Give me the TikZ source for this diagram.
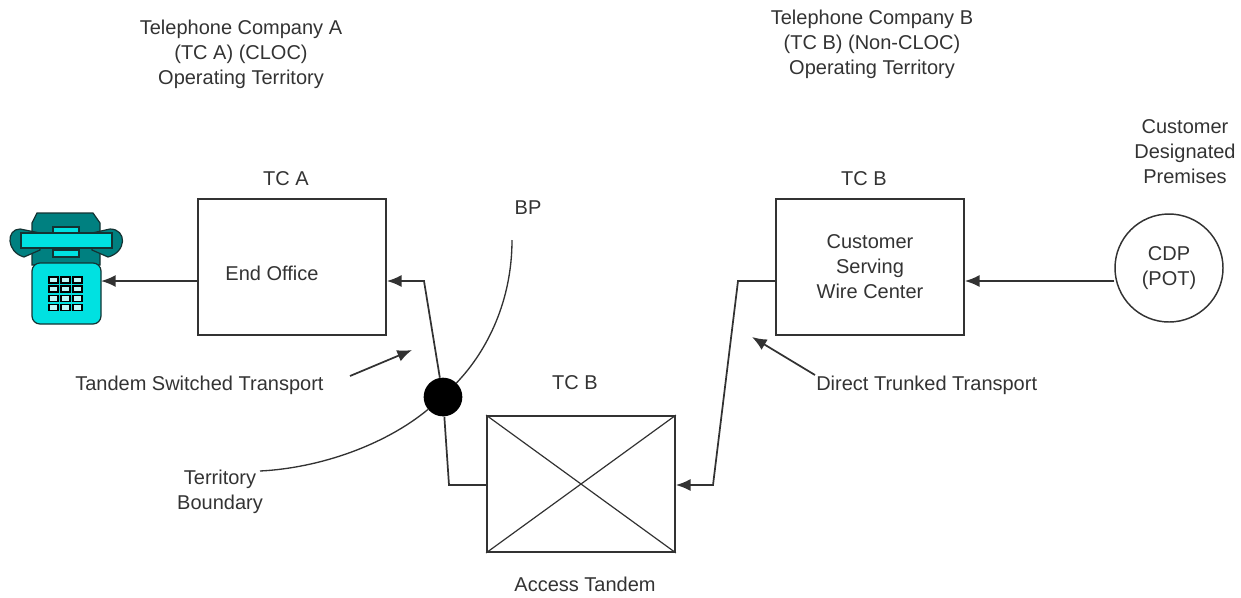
\documentclass[tikz,border=0pt]{standalone}
\usepackage{fontspec}
\setmainfont{Liberation Sans}
\usetikzlibrary{arrows.meta}
\definecolor{phonecyan}{RGB}{0,225,225}
\definecolor{phonedark}{RGB}{0,128,128}
\definecolor{phoneline}{RGB}{20,50,50}
\definecolor{linegray}{RGB}{50,50,50}
\begin{document}
\begin{tikzpicture}[x=0.75pt, y=-0.75pt, every node/.style={font=\fontsize{15}{18.75}\selectfont, text=black!80, align=center, inner sep=0pt}]

\tikzset{box/.style={draw=linegray, line width=1.3pt, minimum width=141pt, minimum height=102pt}}
\tikzset{link/.style={draw=linegray, line width=1.3pt}}
\tikzset{linkarrow/.style={link, -{Latex[length=11pt,width=9pt]}}}
\tikzset{bound/.style={draw=linegray, line width=1pt}}
\tikzset{phonepart/.style={draw=phoneline, line width=0.9pt, fill=phonecyan}}
\tikzset{phonedarkpart/.style={draw=phoneline, line width=0.9pt, fill=phonedark}}

\useasboundingbox (0,0) rectangle (1241,597);

% phone
\filldraw[phonedarkpart] (37,213) -- (93,213) -- (100,223) -- (100,265) -- (32,265) -- (32,223) -- cycle;
\filldraw[phonedarkpart] (17,229) circle [radius=0] (20,229) .. controls (6,229) and (6,252) .. (24,257) -- (40,250) -- (40,233) -- cycle;
\filldraw[phonedarkpart] (110,229) .. controls (127,229) and (127,252) .. (108,257) -- (92,250) -- (92,233) -- cycle;
\filldraw[phonepart] (53,227) rectangle (79,233);
\filldraw[phonepart] (53,250) rectangle (79,257);
\filldraw[phonepart] (21,233) rectangle (112,248);
\filldraw[phonepart, rounded corners=6pt] (32,263) rectangle (101,324);
\foreach \col in {0,1,2} {
  \foreach \row in {0,1,2,3} {
    \filldraw[fill=white!75!phonecyan, draw=black, line width=1.2pt] ({49+\col*12},{277+\row*9.2}) rectangle ({58+\col*12},{283+\row*9.2});
  }
}
\coordinate (phone) at (101,281);

% boxes
\node[box] (endoffice) at (292,267) {};
\node at (272,273) {End Office};
\node[box] (servingwc) at (870,267) {Customer\\Serving\\Wire Center};
\node[box] (tandem) at (581,484) {};
\draw[link, line width=0.9pt] (tandem.north west) -- (tandem.south east);
\draw[link, line width=0.9pt] (tandem.north east) -- (tandem.south west);
\node[circle, draw=linegray, line width=1.1pt, minimum size=81pt] (cdp) at (1169,268) {CDP\\(POT)};
\node[circle, fill=black, minimum size=29pt] (bp) at (443,397) {};

% connectors
\draw[linkarrow] (endoffice.west |- phone) -- (phone);
\coordinate (upbend) at (424,281);
\coordinate (downbend) at (449,485);
\coordinate (eastbend) at (738,281);
\coordinate (southbend) at (713,485);
\draw[linkarrow] (bp) -- (upbend) -- (endoffice.east |- upbend);
\draw[link] (bp) -- (downbend) -- (tandem.west |- downbend);
\draw[linkarrow] (servingwc.west |- eastbend) -- (eastbend) -- (southbend) -- (tandem.east |- southbend);
\draw[linkarrow] (cdp.west |- eastbend) -- (servingwc.east |- eastbend);

% boundary
\coordinate (bptop) at (512,240);
\coordinate (boundleft) at (260,471);
\draw[bound] (bptop) .. controls (512,300) and (488,350) .. (bp);
\draw[bound] (boundleft) .. controls (320,468) and (385,445) .. (bp);

% labels
\node (tca) at (241,54) {Telephone Company A\\(TC A) (CLOC)\\Operating Territory};
\node (tcb) at (872,44) {Telephone Company B\\(TC B) (Non-CLOC)\\Operating Territory};
\node (cdplabel) at (1185,152) {Customer\\Designated\\Premises};
\node (endofficetop) at (286,179) {TC A};
\node (servingtop) at (864,179) {TC B};
\node (tandemtop) at (575,383) {TC B};
\node (bplabel) at (528,208) {BP};
\node (tandemlabel) at (585,584) {Access Tandem};
\node (bound) at (220,492) {Territory\\Boundary};
\node[anchor=west] (tst) at (75,385) {Tandem Switched Transport};
\node[anchor=west] (dtt) at (816,385) {Direct Trunked Transport};

\coordinate (tststart) at (350,376);
\coordinate (tstend) at (412,350);
\coordinate (dttstart) at (815,375);
\coordinate (dttend) at (752,337);
\draw[linkarrow] (tststart) -- (tstend);
\draw[linkarrow] (dttstart) -- (dttend);
\end{tikzpicture}
\end{document}
